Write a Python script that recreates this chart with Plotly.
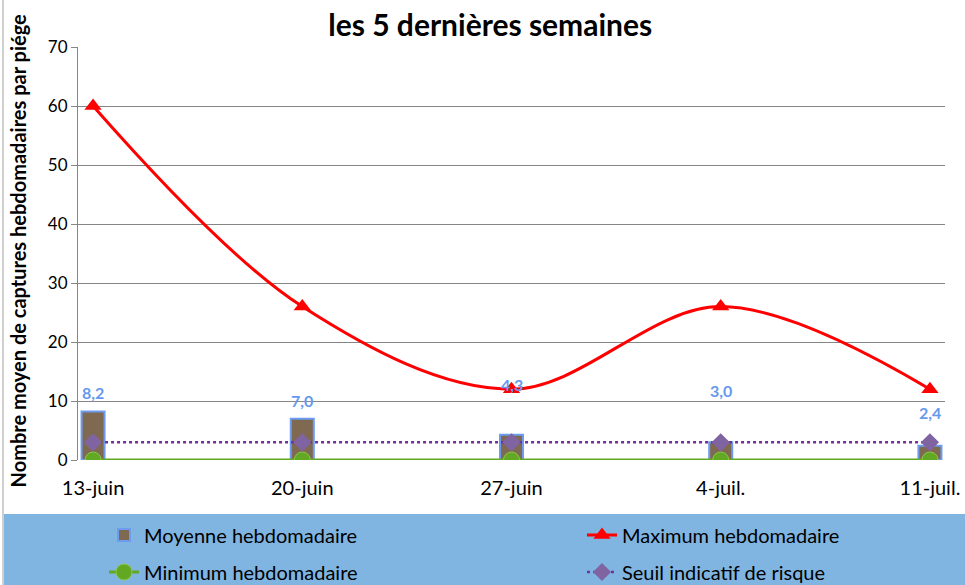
import plotly.graph_objects as go

categories = ["13-juin", "20-juin", "27-juin", "4-juil.", "11-juil."]
moyenne = [8.2, 7.0, 4.3, 3.0, 2.4]
maximum = [60, 26, 12, 26, 12]
minimum = [0, 0, 0, 0, 0]
seuil = [3, 3, 3, 3, 3]
y_ticks = [0, 10, 20, 30, 40, 50, 60, 70]

# styling for the data labels (pixel offsets above bar tops)
label_shift = [19, 18, 50, 52, 33]

FONT = "Lato"

fig = go.Figure()

fig.add_trace(go.Bar(
    x=categories, y=moyenne, name="Moyenne hebdomadaire",
    width=0.11, showlegend=True,
    marker=dict(color="#7F6A51", line=dict(color="#6C9BEF", width=2)),
    legend="legend",
))
fig.add_trace(go.Scatter(
    x=categories, y=maximum, name="Maximum hebdomadaire",
    mode="lines+markers",
    line=dict(color="#FF0000", width=3, shape="spline", smoothing=1),
    marker=dict(symbol="triangle-up", size=15, color="#FF0000"),
    legend="legend2",
))
fig.add_trace(go.Scatter(
    x=categories, y=minimum, name="Minimum hebdomadaire",
    mode="lines+markers",
    line=dict(color="#62A823", width=3),
    marker=dict(symbol="circle", size=16, color="#62A823",
                line=dict(color="#8CC84B", width=1)),
    legend="legend3",
))
fig.add_trace(go.Scatter(
    x=categories, y=seuil, name="Seuil indicatif de risque",
    mode="lines+markers",
    line=dict(color="#7030A0", width=2.5, dash="dot"),
    marker=dict(symbol="diamond", size=14, color="#8064A2"),
    legend="legend4",
))

for c, v, s in zip(categories, moyenne, label_shift):
    fig.add_annotation(
        x=c, y=v, text="<b>" + f"{v:.1f}".replace(".", ",") + "</b>",
        showarrow=False, yshift=s, yanchor="middle",
        font=dict(family=FONT, size=16, color="#6699EE"),
    )

# y-axis title placed as a rotated annotation
fig.add_annotation(
    xref="paper", yref="paper", x=-0.0692, y=0.505,
    text="<b>Nombre moyen de captures hebdomadaires par piége</b>",
    textangle=-90, showarrow=False, xanchor="center", yanchor="middle",
    font=dict(family=FONT, size=20, color="black"),
)

# legend band
fig.add_shape(type="rect", xref="paper", yref="paper",
              x0=-0.087, x1=1.03, y0=-0.1308, y1=-0.32,
              fillcolor="#80B5E2", line=dict(width=0), layer="below")
# thin chart border on the left
fig.add_shape(type="line", xref="paper", yref="paper",
              x0=-0.0865, x1=-0.0865, y0=1.2, y1=-0.32,
              line=dict(color="#D0D0D0", width=2), layer="below")

leg_common = dict(
    orientation="h", xanchor="left", yanchor="middle",
    xref="container", yref="container",
    bgcolor="rgba(0,0,0,0)",
    font=dict(family=FONT, size=20, color="black"),
    itemwidth=30,
)

fig.update_layout(
    width=965, height=585,
    margin=dict(l=78, r=20, t=47, b=125),
    paper_bgcolor="white", plot_bgcolor="white",
    font=dict(family=FONT, color="black"),
    showlegend=True,
    title=dict(text="<b>les 5 dernières semaines</b>",
               x=0.508, xanchor="center", y=1 - 25 / 585, yanchor="middle",
               xref="container", yref="container",
               font=dict(family=FONT, size=30, color="black")),
    barmode="overlay",
    xaxis=dict(
        type="category", range=[-0.072, 4.072],
        showgrid=False, showline=False, ticks="",
        tickfont=dict(family=FONT, size=20, color="black"),
        ticklabelstandoff=14, automargin=False,
    ),
    yaxis=dict(
        range=[0, 70], tickvals=y_ticks,
        showgrid=True, gridcolor="#868686", gridwidth=1,
        showline=True, linecolor="#868686", linewidth=1,
        ticks="outside", ticklen=6, tickcolor="#868686",
        tickfont=dict(family=FONT, size=17, color="black"),
        zeroline=False, automargin=False,
    ),
    legend=dict(x=0.1078, y=1 - 535 / 585, **leg_common),
    legend2=dict(x=0.6031, y=1 - 535 / 585, **leg_common),
    legend3=dict(x=0.1078, y=1 - 572 / 585, **leg_common),
    legend4=dict(x=0.6031, y=1 - 572 / 585, **leg_common),
)

fig.write_html(
    "out.html",
    config={"displayModeBar": False},
    post_script="document.body.style.margin='0';document.body.style.padding='0';",
)
